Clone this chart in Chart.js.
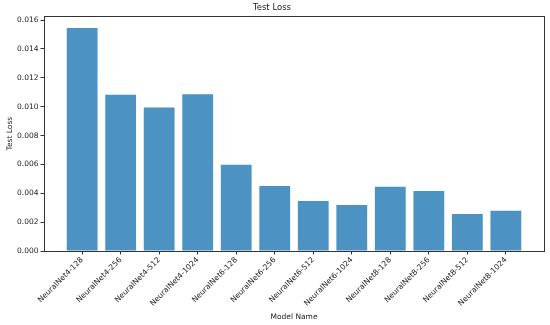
<!DOCTYPE html>
<html>
<head>
<meta charset="utf-8">
<script src="https://cdn.jsdelivr.net/npm/chart.js@4"></script>
<style>
  html, body { margin: 0; padding: 0; background: #fff; }
  #wrap { width: 550px; height: 325px; }
</style>
</head>
<body>
<div id="wrap"><canvas id="lossChart"></canvas></div>
<script>
const models = [
    'NeuralNet4-128', 'NeuralNet4-256', 'NeuralNet4-512', 'NeuralNet4-1024',
    'NeuralNet6-128', 'NeuralNet6-256', 'NeuralNet6-512', 'NeuralNet6-1024',
    'NeuralNet8-128', 'NeuralNet8-256', 'NeuralNet8-512', 'NeuralNet8-1024'
];
const testLoss = [
    0.01546, 0.01083, 0.00995, 0.01087,
    0.00598, 0.00450, 0.00346, 0.00319,
    0.00446, 0.00416, 0.00256, 0.00279
];
const yTicks = [0, 0.002, 0.004, 0.006, 0.008, 0.010, 0.012, 0.014, 0.016];

const FONT = 'DejaVu Sans';
const INK = '#222';

// matplotlib draws a box all the way round the axes
const frame = {
    id: 'frame',
    afterDraw(chart) {
        const a = chart.chartArea;
        const ctx = chart.ctx;
        ctx.save();
        ctx.strokeStyle = '#333';
        ctx.lineWidth = 1;
        ctx.strokeRect(Math.round(a.left) + 0.5, Math.round(a.top) + 0.5,
            Math.round(a.right - a.left), Math.round(a.bottom - a.top));
        ctx.restore();
    }
};

new Chart(document.getElementById('lossChart'), {
    type: 'bar',
    data: {
        datasets: [{
            label: 'Test Loss',
            data: testLoss.map((v, i) => ({ x: i, y: v })),
            backgroundColor: 'rgba(31,119,180,0.8)',
            borderWidth: 0,
            barPercentage: 0.8,
            categoryPercentage: 1
        }]
    },
    options: {
        responsive: true,
        maintainAspectRatio: false,
        animation: false,
        layout: { padding: { left: 0, right: 6, top: 0, bottom: 0 } },
        plugins: {
            legend: { display: false },
            tooltip: { enabled: false },
            title: {
                display: true,
                text: 'Test Loss',
                color: INK,
                font: { family: FONT, size: 8.5, weight: 'normal' },
                padding: { top: 3, bottom: 3 }
            }
        },
        scales: {
            x: {
                type: 'linear',
                min: -0.99,
                max: 11.99,
                offset: false,
                grid: { offset: false, drawOnChartArea: false, tickLength: 3.5, color: '#333' },
                border: { color: '#333' },
                afterBuildTicks: axis => { axis.ticks = models.map((m, i) => ({ value: i })); },
                afterFit: axis => { axis.height = 74; },
                ticks: {
                    autoSkip: false,
                    minRotation: 45,
                    maxRotation: 45,
                    padding: 1,
                    color: INK,
                    font: { family: FONT, size: 7.6 },
                    callback: v => models[v]
                },
                title: {
                    display: true,
                    text: 'Model Name',
                    color: INK,
                    font: { family: FONT, size: 7.5 },
                    padding: { top: 0, bottom: 3 }
                }
            },
            y: {
                min: 0,
                max: 0.01627,
                grid: { drawOnChartArea: false, tickLength: 3.5, color: '#333' },
                border: { color: '#333' },
                afterBuildTicks: axis => { axis.ticks = yTicks.map(v => ({ value: v })); },
                afterFit: axis => { axis.width = 44; },
                ticks: {
                    padding: 2,
                    color: INK,
                    font: { family: FONT, size: 7.5 },
                    callback: v => v.toFixed(3)
                },
                title: {
                    display: true,
                    text: 'Test Loss',
                    color: INK,
                    font: { family: FONT, size: 7.5 },
                    padding: { top: 6, bottom: 1 }
                }
            }
        }
    },
    plugins: [frame]
});
</script>
</body>
</html>
